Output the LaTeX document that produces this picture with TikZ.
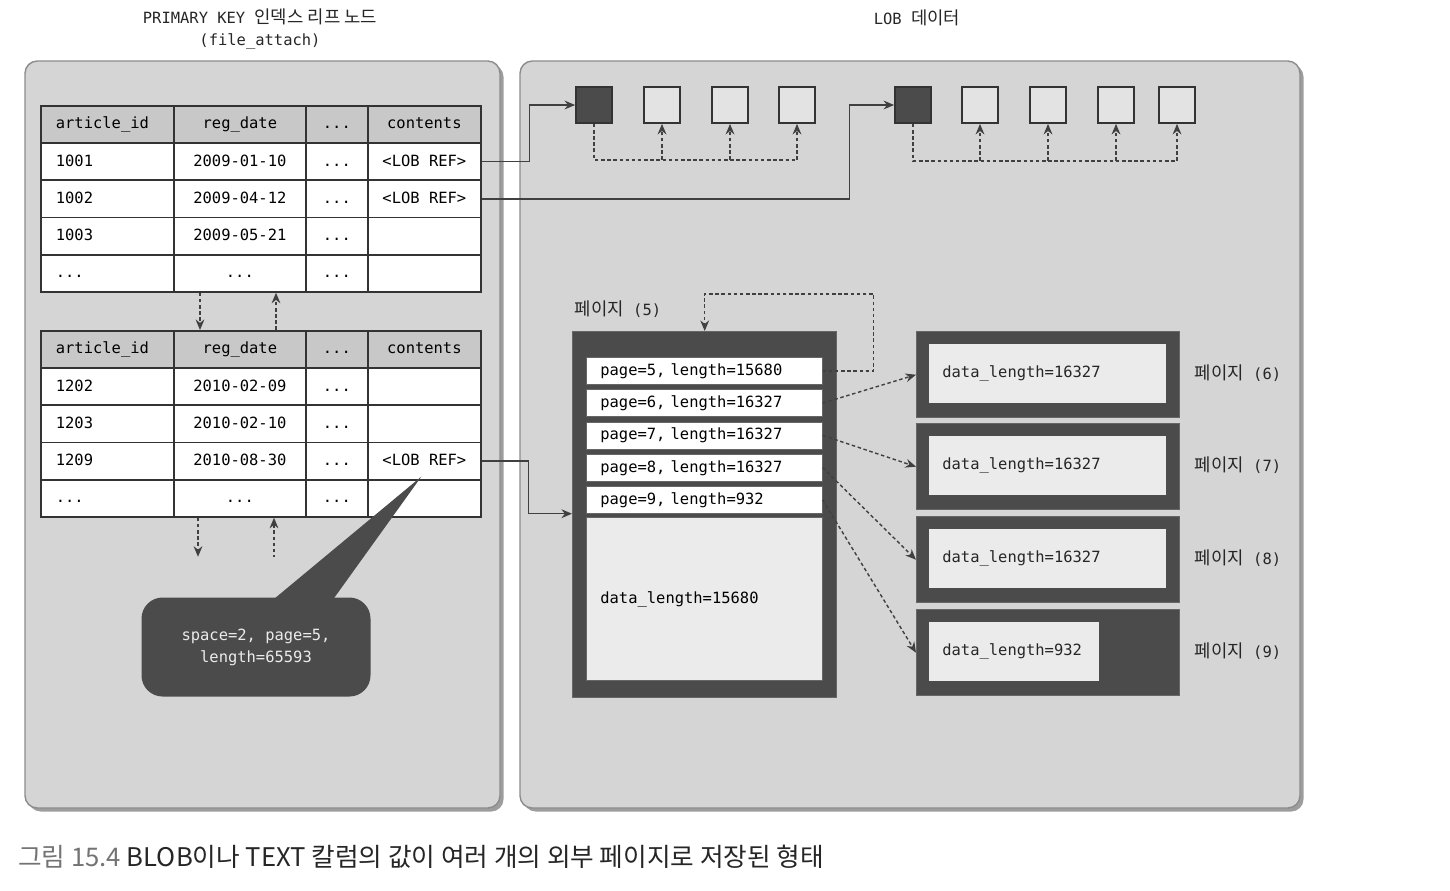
\documentclass[tikz,border=0pt]{standalone}
\usepackage{fontspec}
\setmonofont{DejaVu Sans Mono}
\newfontfamily\krfont[Scale=1.15]{Noto Sans CJK KR}
\usetikzlibrary{arrows.meta,calc,shadows}

\definecolor{panelgray}{HTML}{D5D5D5}
\definecolor{hdrgray}{HTML}{C8C8C8}
\definecolor{pagedark}{HTML}{4B4B4B}
\definecolor{pagelight}{HTML}{EBEBEB}
\definecolor{boxlight}{HTML}{E3E3E3}
\definecolor{linegray}{HTML}{333333}

\newcommand{\pu}{0.02cm}   % un pixel del riferimento
\newcommand{\cellfont}{\ttfamily\fontsize{8.8pt}{12.5pt}\selectfont}
\newcommand{\ddd}{...}

\tikzset{
  panel/.style={draw=black!45, line width=0.8pt, fill=panelgray, rounded corners=7pt,
    drop shadow={shadow xshift=2pt, shadow yshift=-2pt, opacity=0.55, fill=black!70}},
  cell/.style={draw=linegray, line width=1pt, anchor=north west, inner sep=0pt,
    minimum height=37.2*\pu, text height=7pt, text depth=2pt, font=\cellfont},
  leftcell/.style={cell, inner xsep=0.3cm, text width=2.06cm, align=left},
  lobpage/.style={draw=linegray, line width=1pt, minimum width=36*\pu, minimum height=36*\pu, inner sep=0pt},
  link/.style={draw=black!75, line width=0.8pt, -{Stealth[length=6pt,width=5pt]}},
  dlink/.style={link, dash pattern=on 2pt off 1.5pt},
  p5row/.style={draw=black!60, fill=white, anchor=north west, inner xsep=0.28cm, inner ysep=0pt,
    text width=4.16cm, align=left, minimum height=27*\pu, text height=7pt, text depth=2pt, font=\cellfont},
  pageout/.style={draw=black!60, fill=pagedark, line width=0.8pt, anchor=north west, inner sep=0pt,
    minimum width=263*\pu, minimum height=86*\pu},
  pagein/.style={draw=black!70, fill=pagelight, anchor=north west, inner sep=0pt, minimum height=60*\pu},
  boxtext/.style={anchor=west, inner sep=0pt, font=\cellfont, text=black!85},
  pglabel/.style={font=\cellfont, text=black!85},
  callout/.style={fill=pagedark, rounded corners=12pt, minimum width=229*\pu, minimum height=99*\pu,
    align=center, text=black!8, font=\cellfont}
}

\begin{document}
\begin{tikzpicture}[x=\pu, y=-\pu]
  \useasboundingbox (0,0) rectangle (1450,890);

  % --- pannelli e titoli ----------------------------------------------------
  \draw[panel] (25,61) rectangle (500,808);
  \draw[panel] (520,61) rectangle (1300,808);
  \node[font=\cellfont, align=center, text=black!85] (ttl-l) at (260,29)
    {PRIMARY KEY {\krfont 인덱스 리프 노드}\\(file\_attach)};
  \node[font=\cellfont, text=black!85] (ttl-r) at (917,18) {LOB {\krfont 데이터}};

  % --- foglia A del PRIMARY KEY --------------------------------------------
  \foreach \ca/\cb/\cc/\cd [count=\r from 0] in {
      article\_id/reg\_date/\ddd/contents,
      1001/2009-01-10/\ddd/<LOB REF>,
      1002/2009-04-12/\ddd/<LOB REF>,
      1003/2009-05-21/\ddd/{},
      \ddd/\ddd/\ddd/{}} {
    \ifnum\r=0 \def\rowfill{hdrgray}\else\def\rowfill{white}\fi
    \node[leftcell, fill=\rowfill] (ta-\r-1) at (40,105+\r*37.2) {\ca};
    \node[cell, fill=\rowfill, minimum width=132*\pu] (ta-\r-2) at (173,105+\r*37.2) {\cb};
    \node[cell, fill=\rowfill, minimum width=62*\pu] (ta-\r-3) at (305,105+\r*37.2) {\cc};
    \node[cell, fill=\rowfill, minimum width=113*\pu] (ta-\r-4) at (367,105+\r*37.2) {\cd};
  }

  % --- foglia B del PRIMARY KEY --------------------------------------------
  \foreach \ca/\cb/\cc/\cd [count=\r from 0] in {
      article\_id/reg\_date/\ddd/contents,
      1202/2010-02-09/\ddd/{},
      1203/2010-02-10/\ddd/{},
      1209/2010-08-30/\ddd/<LOB REF>,
      \ddd/\ddd/\ddd/{}} {
    \ifnum\r=0 \def\rowfill{hdrgray}\else\def\rowfill{white}\fi
    \node[leftcell, fill=\rowfill] (tb-\r-1) at (40,330+\r*37.2) {\ca};
    \node[cell, fill=\rowfill, minimum width=132*\pu] (tb-\r-2) at (173,330+\r*37.2) {\cb};
    \node[cell, fill=\rowfill, minimum width=62*\pu] (tb-\r-3) at (305,330+\r*37.2) {\cc};
    \node[cell, fill=\rowfill, minimum width=113*\pu] (tb-\r-4) at (367,330+\r*37.2) {\cd};
  }

  % legami fra le foglie
  \draw[dlink] ($(ta-4-2.south west)+(27,0)$) -- ($(tb-0-2.north west)+(27,0)$);
  \draw[dlink] ($(tb-0-2.north west)+(103,0)$) -- ($(ta-4-2.south west)+(103,0)$);
  \draw[dlink] ($(tb-4-2.south west)+(25,0)$) -- ++(0,39);
  \draw[dlink, {Stealth[length=6pt,width=5pt]}-] ($(tb-4-2.south west)+(101,0)$) -- ++(0,39);

  % --- pagine LOB in alto ---------------------------------------------------
  \node[lobpage, fill=pagedark] (la-0) at (594,105) {};
  \foreach \x [count=\i] in {662,730,797}
    \node[lobpage, fill=boxlight] (la-\i) at (\x,105) {};
  \node[lobpage, fill=pagedark] (lb-0) at (913,105) {};
  \foreach \x [count=\i] in {980,1048,1116,1177}
    \node[lobpage, fill=boxlight] (lb-\i) at (\x,105) {};

  \draw[dlink, -] (la-0.south) -- ++(0,36) coordinate (la-bus) -- (la-bus -| la-3.south);
  \foreach \i in {1,2,3}
    \draw[dlink] (la-bus -| la-\i.south) -- (la-\i.south);
  \draw[dlink, -] (lb-0.south) -- ++(0,37) coordinate (lb-bus) -- (lb-bus -| lb-4.south);
  \foreach \i in {1,2,3,4}
    \draw[dlink] (lb-bus -| lb-\i.south) -- (lb-\i.south);

  % --- pagina (5) -----------------------------------------------------------
  \node[pageout, minimum width=264*\pu, minimum height=366*\pu] (p5) at (572,331) {};
  \foreach \t [count=\i from 0] in {{page=5, length=15680}, {page=6, length=16327},
      {page=7, length=16327}, {page=8, length=16327}, {page=9, length=932}}
    \node[p5row] (p5-\i) at (586,357+\i*32.25) {\t};
  \node[p5row, fill=pagelight, minimum height=163*\pu] (p5-data) at (586,517) {data\_length=15680};
  \node[pglabel] (p5-lbl) at (618,309) {{\krfont 페이지} (5)};

  % --- pagine (6)..(9) ------------------------------------------------------
  \foreach \n/\y/\w/\len in {6/331/238/16327, 7/423/238/16327, 8/516/238/16327, 9/609/171/932} {
    \node[pageout] (p\n) at (916,\y) {};
    \node[pagein, minimum width=\w*\pu] (p\n-in) at (928,\y+12) {};
    \node[boxtext] (p\n-txt) at ([xshift=14*\pu]p\n-in.west) {data\_length=\len};
    \node[pglabel] (p\n-lbl) at (1238,\y+42) {{\krfont 페이지} (\n)};
  }

  % --- collegamenti ---------------------------------------------------------
  \draw[link] (ta-1-4.east) -- ++(48,0) |- (la-0.west);
  \draw[link] (ta-2-4.east) -- ++(368,0) |- (lb-0.west);
  \draw[link] (tb-3-4.east) -- ++(47,0) |- (p5-4.south -| p5.west);
  \draw[dlink] (p5-0.east) -- ++(51,0) -- ++(0,-77) -| (p5.north);
  \foreach \i/\n in {1/6,2/7,3/8,4/9}
    \draw[dlink] (p5-\i.east) -- (p\n.west);

  % --- nota sul riferimento LOB ---------------------------------------------
  \node[callout] (note) at (256,647) {space=2, page=5,\\length=65593};
  \fill[pagedark] ($(note.north)+(19,1)$) -- ($(tb-3-4.south)+(-3,-4)$) -- ($(note.north)+(78,1)$) -- cycle;

  % --- didascalia -----------------------------------------------------------
  \node[anchor=west, inner sep=0pt, font=\krfont\fontsize{12.7pt}{15pt}\selectfont] (caption) at (18,857)
    {\textcolor{black!55}{그림 15.4} \textcolor{black!85}{BLOB이나 TEXT 칼럼의 값이 여러 개의 외부 페이지로 저장된 형태}};
\end{tikzpicture}
\end{document}
